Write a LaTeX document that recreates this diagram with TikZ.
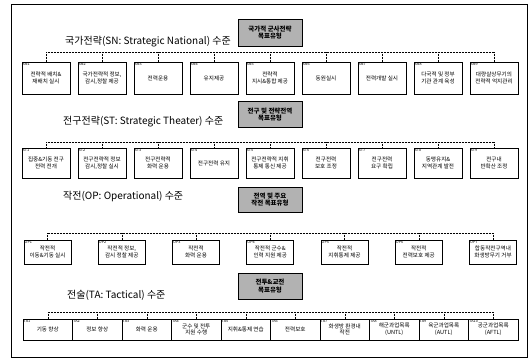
\documentclass[tikz,border=0pt]{standalone}
\usepackage{fontspec}
\setmainfont{Noto Sans CJK KR}
\usetikzlibrary{patterns}
\tikzset{
  x=1pt, y=-1pt,
  task/.style={draw, line width=0.55pt, align=center, inner sep=1pt,
    font=\fontsize{5.6}{6.7}\selectfont},
  idl/.style={anchor=north west, inner sep=0.8pt, font=\fontsize{3.8}{4}\selectfont},
  goal/.style={draw, line width=0.6pt, fill=gray!60, minimum width=64pt, minimum height=27pt,
    align=center, inner sep=1pt, font=\fontsize{6.5}{7.6}\selectfont\bfseries},
  lvl/.style={anchor=west, inner sep=0pt, font=\fontsize{10}{11}\selectfont},
  bus/.style={densely dotted, line width=0.5pt},
}
\newcommand{\tbox}[7]{%
  \node[task, minimum width=#4pt, minimum height=#5pt] (#1) at (#2,#3) {#7};
  \node[idl] (#1l) at (#1.north west) {#6};}
\begin{document}
\begin{tikzpicture}
\useasboundingbox (0,0) rectangle (529,359);
\draw[line width=0.9pt] (11,4) rectangle (527,357);

% ---------------- SN ----------------
\node[lvl] (snt) at (65,42) {국가전략(SN: Strategic National) 수준};
\node[goal, minimum height=27pt] (sng) at (270,32.5) {국가적 군사전략\\목표유형};
\tbox{sn1}{46}{78}{48}{32}{SN1}{전략적 배치\&\\재배치 실시}
\tbox{sn2}{102}{78}{48}{32}{SN2}{국가전략적 정보,\\감시,정찰 제공}
\tbox{sn3}{158}{78}{48}{32}{SN3}{전력운용}
\tbox{sn4}{214}{78}{48}{32}{SN4}{유지제공}
\tbox{sn5}{270}{78}{48}{32}{SN5}{전략적\\지시\&통합 제공}
\tbox{sn6}{326}{78}{48}{32}{SN6}{동원실시}
\tbox{sn7}{382}{78}{48}{32}{SN7}{전력개발 실시}
\tbox{sn8}{438}{78}{48}{32}{SN8}{다국적 및 정부\\기관 관계 육성}
\tbox{sn9}{494}{78}{48}{32}{SN9}{대량살상무기의\\전략적 억지관리}
\coordinate (snbus) at (0,52);
\draw[bus] (sn1.north |- snbus) -- (sn9.north |- snbus);
\foreach \n in {sn1,sn2,sn3,sn4,sn5,sn6,sn7,sn8,sn9}
  \draw[bus] (\n.north |- snbus) -- (\n.north);

% ---------------- ST ----------------
\node[lvl] (stt) at (63,122) {전구전략(ST: Strategic Theater) 수준};
\node[goal, minimum height=26pt] (stg) at (270,114.5) {전구 및 전략전역\\목표유형};
\tbox{st1}{46}{163}{48}{30}{ST1}{집중\&기동 전구\\전력 전개}
\tbox{st2}{102}{163}{48}{30}{ST2}{전구전략적 정보\\감시,정찰 실시}
\tbox{st3}{158}{163}{48}{30}{ST3}{전구전략적\\화력 운용}
\tbox{st4}{214}{163}{48}{30}{ST4}{전구전력 유지}
\tbox{st5}{270}{163}{48}{30}{ST5}{전구전략적 지휘\\통제 통신 제공}
\tbox{st6}{326}{163}{48}{30}{ST6}{전구전력\\보호 조정}
\tbox{st7}{382}{163}{48}{30}{ST7}{전구전력\\요구 확립}
\tbox{st8}{438}{163}{48}{30}{ST8}{동맹유지\&\\지역관계 발전}
\tbox{st9}{494}{163}{48}{30}{ST9}{전구내\\반확산 조정}
\coordinate (stbus) at (0,142);
\draw[bus] (st1.north |- stbus) -- (st9.north |- stbus);
\foreach \n in {st1,st2,st3,st4,st5,st6,st7,st8,st9}
  \draw[bus] (\n.north |- stbus) -- (\n.north);

% ---------------- OP ----------------
\node[lvl] (opt) at (63,197) {작전(OP: Operational) 수준};
\node[goal, minimum height=25pt] (opg) at (270,199.5) {전역 및 주요\\작전 목표유형};
\tbox{op1}{47.5}{252}{47}{24}{OP1}{작전적\\이동\&기동 실시}
\tbox{op2}{121.75}{252}{47}{24}{OP2}{작전적 정보,\\감시 정찰 제공}
\tbox{op3}{196}{252}{47}{24}{OP3}{작전적\\화력 운용}
\tbox{op4}{270.25}{252}{47}{24}{OP4}{작전적 군수\&\\인력 지원 제공}
\tbox{op5}{344.5}{252}{47}{24}{OP5}{작전적\\지휘통제 제공}
\tbox{op6}{418.75}{252}{47}{24}{OP6}{작전적\\전력보호 제공}
\tbox{op7}{493}{252}{47}{24}{OP7}{합동작전구역내\\화생방무기 거부}
\coordinate (opbus) at (0,233);
\draw[bus] (op1.north |- opbus) -- (op7.north |- opbus);
\foreach \n in {op1,op2,op3,op4,op5,op6,op7}
  \draw[bus] (\n.north |- opbus) -- (\n.north);

% ---------------- TA ----------------
\node[lvl] (tat) at (67,295) {전술(TA: Tactical) 수준};
\node[goal, minimum height=26pt] (tag) at (270,286) {전투\&교전\\목표유형};
\tbox{ta1}{47.75}{329.5}{49.5}{21}{TA1}{기동 향상}
\tbox{ta2}{97.25}{329.5}{49.5}{21}{TA2}{정보 향상}
\tbox{ta3}{146.75}{329.5}{49.5}{21}{TA3}{화력 운용}
\tbox{ta4}{196.25}{329.5}{49.5}{21}{TA4}{군수 및 전투\\지원 수행}
\tbox{ta5}{245.75}{329.5}{49.5}{21}{TA5}{지휘\&통제 연습}
\tbox{ta6}{295.25}{329.5}{49.5}{21}{TA6}{전력보호}
\tbox{ta7}{344.75}{329.5}{49.5}{21}{TA7}{화생방 환경내\\작전}
\tbox{ta8}{394.25}{329.5}{49.5}{21}{TA8}{해군과업목록\\(UNTL)}
\tbox{ta9}{443.75}{329.5}{49.5}{21}{TA9}{육군과업목록\\(AUTL)}
\tbox{ta10}{493.25}{329.5}{49.5}{21}{TA10}{공군과업목록\\(AFTL)}
\coordinate (tabus) at (0,312);
\draw[bus] (ta1.north |- tabus) -- (ta10.north |- tabus);
\foreach \n in {ta1,ta2,ta3,ta4,ta5,ta6,ta7,ta8,ta9,ta10}
  \draw[bus] (\n.north |- tabus) -- (\n.north);
\end{tikzpicture}
\end{document}
